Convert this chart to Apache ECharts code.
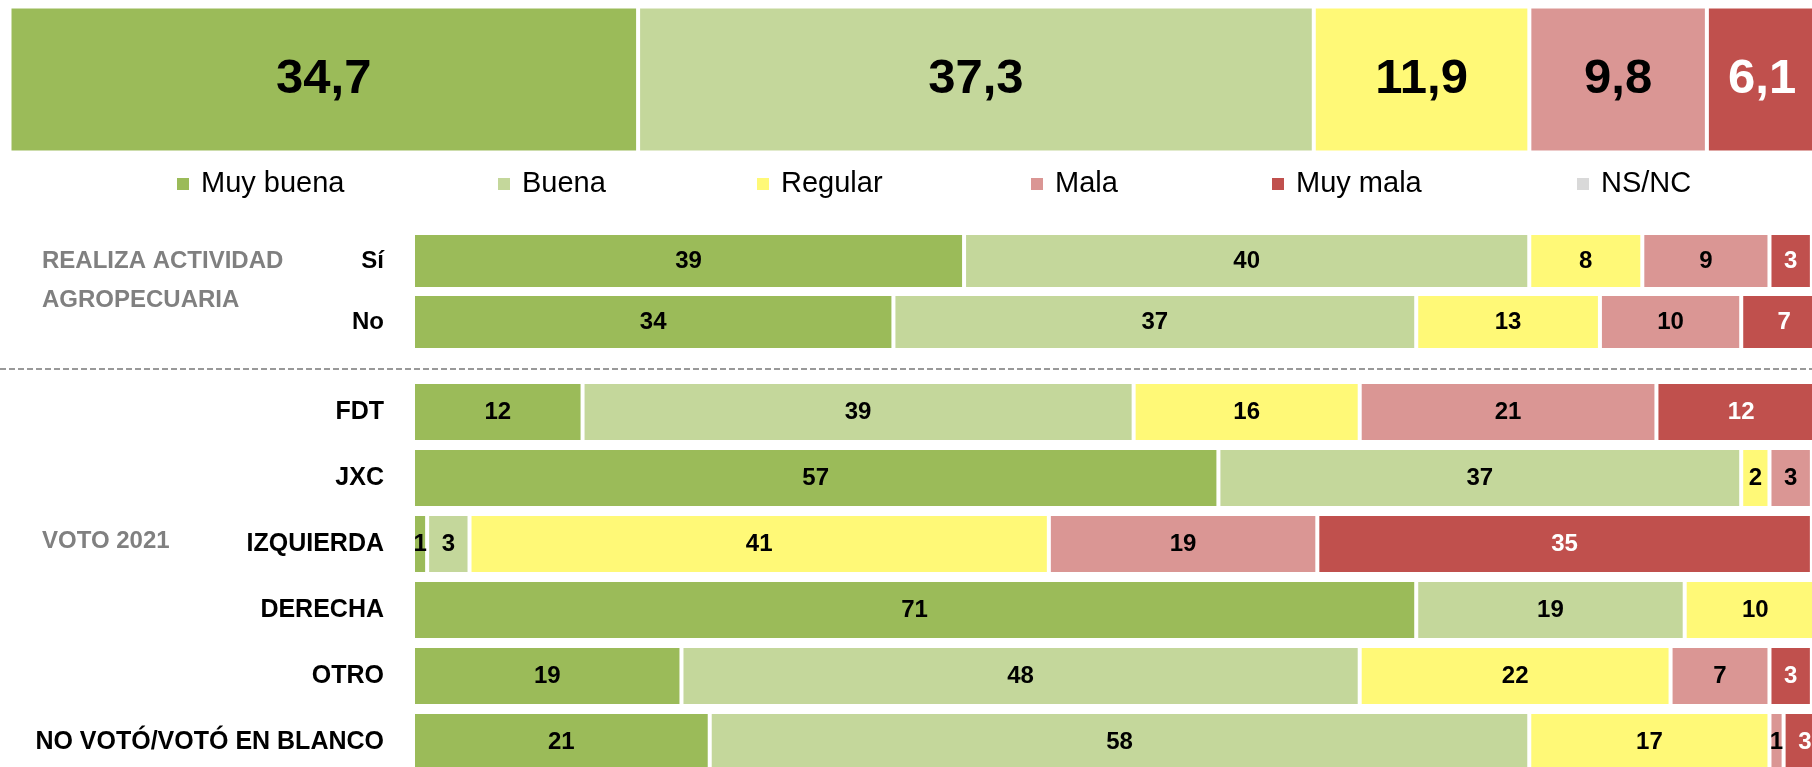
<!DOCTYPE html>
<html>
<head>
<meta charset="utf-8">
<script src="https://cdn.jsdelivr.net/npm/echarts@6/dist/echarts.min.js"></script>
<style>
html,body{margin:0;padding:0;background:#fff;}
#chart{width:1812px;height:767px;}
</style>
</head>
<body>
<div id="chart"></div>
<script>
// ---- data ----
const seriesNames = ['Muy buena', 'Buena', 'Regular', 'Mala', 'Muy mala', 'NS/NC'];
const seriesColors = ['#9BBB59', '#C4D79B', '#FFF977', '#DA9694', '#C0504D', '#D9D9D9'];
const labelColors = ['#000', '#000', '#000', '#000', '#fff', '#000'];

const totalCategory = ['Total'];
const totalMuyBuena = [34.7];
const totalBuena = [37.3];
const totalRegular = [11.9];
const totalMala = [9.8];
const totalMuyMala = [6.1];
const totalNsnc = [null];

const agroCategories = ['Sí', 'No'];
const agroMuyBuena = [39, 34];
const agroBuena = [40, 37];
const agroRegular = [8, 13];
const agroMala = [9, 10];
const agroMuyMala = [3, 7];
const agroNsnc = [null, null];

const votoCategories = ['FDT', 'JXC', 'IZQUIERDA', 'DERECHA', 'OTRO', 'NO VOTÓ/VOTÓ EN BLANCO'];
const votoMuyBuena = [12, 57, 1, 71, 19, 21];
const votoBuena = [39, 37, 3, 19, 48, 58];
const votoRegular = [16, 2, 41, 10, 22, 17];
const votoMala = [21, 3, 19, null, 7, 1];
const votoMuyMala = [12, null, 35, null, 3, 3];
const votoNsnc = [null, null, null, null, null, null];

const groupLabelAgro = ['REALIZA ACTIVIDAD', 'AGROPECUARIA'];
const groupLabelVoto = 'VOTO 2021';

// ---- chart ----
const FONT = '"Liberation Sans", Arial, sans-serif';
const chart = echarts.init(document.getElementById('chart'), null, {renderer: 'canvas'});

const totalData = [totalMuyBuena, totalBuena, totalRegular, totalMala, totalMuyMala, totalNsnc];
const agroData = [agroMuyBuena, agroBuena, agroRegular, agroMala, agroMuyMala, agroNsnc];
const votoData = [votoMuyBuena, votoBuena, votoRegular, votoMala, votoMuyMala, votoNsnc];

function makeSeries(dataSets, gridIdx, stack, barWidth, fontSize, fmt) {
  return seriesNames.map((name, i) => ({
    name: name,
    type: 'bar',
    stack: stack,
    xAxisIndex: gridIdx,
    yAxisIndex: gridIdx,
    barWidth: barWidth,
    data: dataSets[i],
    itemStyle: {color: seriesColors[i], borderColor: '#fff', borderWidth: 2},
    label: {
      show: true,
      position: 'inside',
      color: labelColors[i],
      fontFamily: FONT,
      fontWeight: 'bold',
      fontSize: fontSize,
      formatter: fmt
    },
    emphasis: {disabled: true},
    animation: false
  }));
}

const fmtDec = p => p.value == null ? '' : Number(p.value).toFixed(1).replace('.', ',');
const fmtInt = p => p.value == null ? '' : String(p.value);

const legendX = [175, 496, 755, 1029, 1270, 1575];
const legends = seriesNames.map((n, i) => ({
  data: [n],
  left: legendX[i],
  top: 169,
  padding: 0,
  icon: 'rect',
  itemWidth: 14,
  itemHeight: 14,
  selectedMode: false,
  textStyle: {fontFamily: FONT, fontSize: 29, color: '#000', padding: [0, 0, 0, 6], lineHeight: 30}
}));

const catAxisCommon = {
  type: 'category',
  inverse: true,
  axisLine: {show: false},
  axisTick: {show: false},
  splitLine: {show: false}
};
const valAxisCommon = {
  type: 'value',
  min: 0,
  max: 100,
  show: false,
  splitLine: {show: false}
};

const option = {
  backgroundColor: '#fff',
  animation: false,
  legend: legends,
  grid: [
    {left: 9.5, right: -9, top: 5, height: 149, outerBoundsMode: 'none', containLabel: false},
    {left: 413, right: -14, top: 230.5, height: 122, outerBoundsMode: 'none', containLabel: false},
    {left: 413, right: -14, top: 379, height: 396, outerBoundsMode: 'none', containLabel: false}
  ],
  xAxis: [
    Object.assign({gridIndex: 0}, valAxisCommon),
    Object.assign({gridIndex: 1}, valAxisCommon),
    Object.assign({gridIndex: 2}, valAxisCommon)
  ],
  yAxis: [
    Object.assign({gridIndex: 0, data: totalCategory, axisLabel: {show: false}}, catAxisCommon),
    Object.assign({gridIndex: 1, data: agroCategories,
      axisLabel: {margin: 29, fontFamily: FONT, fontWeight: 'bold', fontSize: 24, color: '#000'}}, catAxisCommon),
    Object.assign({gridIndex: 2, data: votoCategories,
      axisLabel: {margin: 29, fontFamily: FONT, fontWeight: 'bold', fontSize: 25, color: '#000'}}, catAxisCommon)
  ],
  series: [].concat(
    makeSeries(totalData, 0, 'total', 146, 49, fmtDec),
    makeSeries(agroData, 1, 'agro', 56, 24, fmtInt),
    makeSeries(votoData, 2, 'voto', 60, 24, fmtInt)
  ),
  graphic: [
    {type: 'line', shape: {x1: 0, y1: 369, x2: 1812, y2: 369},
     style: {stroke: '#999', lineWidth: 2, lineDash: [6, 3]}, silent: true},
    {type: 'text', left: 42, top: 263 - 14, style: {text: groupLabelAgro[0], fill: '#808080', font: 'bold 24px ' + FONT}},
    {type: 'text', left: 42, top: 302 - 14, style: {text: groupLabelAgro[1], fill: '#808080', font: 'bold 24px ' + FONT}},
    {type: 'text', left: 42, top: 543 - 14, style: {text: groupLabelVoto, fill: '#808080', font: 'bold 24px ' + FONT}}
  ]
};
chart.setOption(option);
</script>
</body>
</html>
